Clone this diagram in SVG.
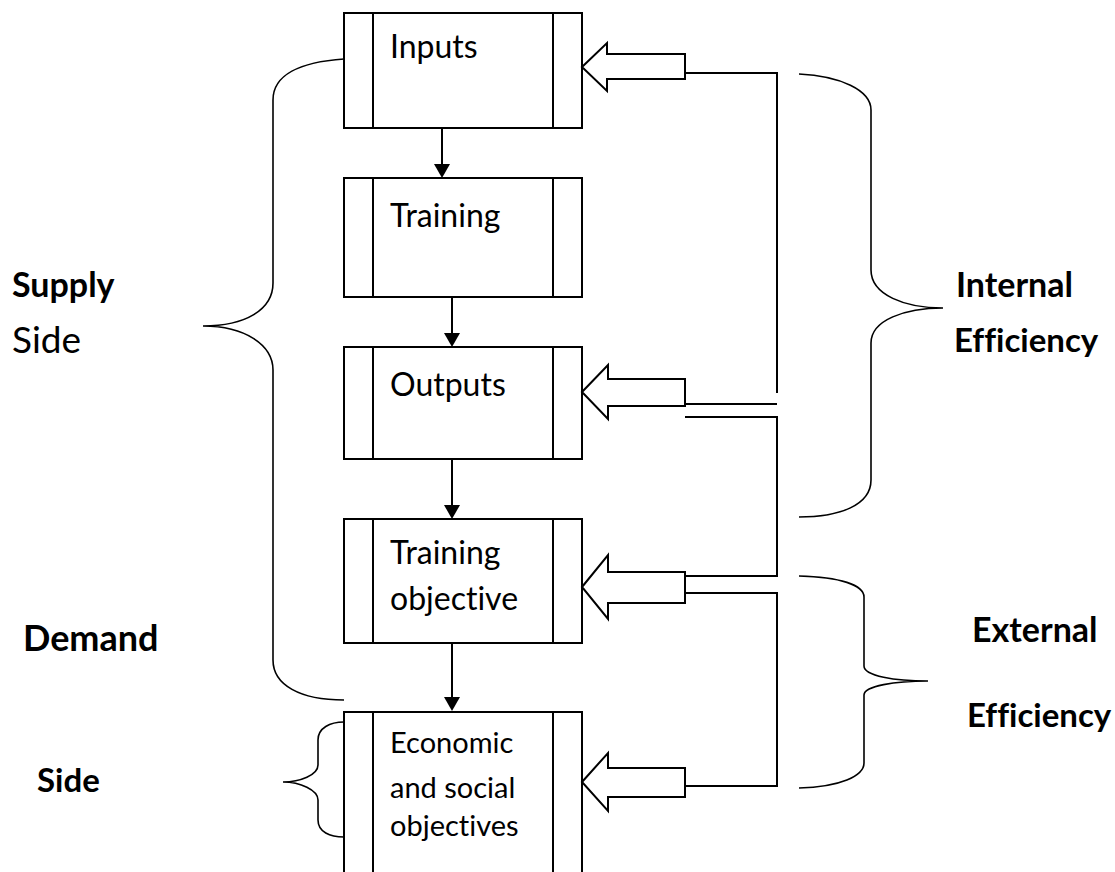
<svg xmlns="http://www.w3.org/2000/svg" width="1115" height="872" viewBox="0 0 1115 872">
<style>
text{font-variant-ligatures:none}
.box{fill:#fff;stroke:#000;stroke-width:2}
.ln{fill:none;stroke:#000;stroke-width:2}
.br{fill:none;stroke:#000;stroke-width:1.6}
.blk{fill:#fff;stroke:#000;stroke-width:2;stroke-linejoin:miter}
.t{font-family:Lato,"Open Sans",sans-serif;font-size:32px;fill:#000}
.ts{font-family:Lato,"Open Sans",sans-serif;font-size:29px;fill:#000}
.b{font-family:Lato,"Open Sans",sans-serif;font-size:34px;font-weight:bold;fill:#000}
.side{font-family:Lato,"Open Sans",sans-serif;font-size:37px;fill:#000}
</style>
<rect width="1115" height="872" fill="#fff"/>
<g id="node-inputs">
<rect class="box" x="344" y="13" width="238" height="115"/>
<line class="ln" x1="373" y1="13" x2="373" y2="128"/>
<line class="ln" x1="553" y1="13" x2="553" y2="128"/>
<text class="t" x="390" y="58">Inputs</text>
</g>
<g id="node-training">
<rect class="box" x="344" y="178" width="238" height="119"/>
<line class="ln" x1="373" y1="178" x2="373" y2="297"/>
<line class="ln" x1="553" y1="178" x2="553" y2="297"/>
<text class="t" x="390" y="227">Training</text>
</g>
<g id="node-outputs">
<rect class="box" x="344" y="347" width="238" height="112"/>
<line class="ln" x1="373" y1="347" x2="373" y2="459"/>
<line class="ln" x1="553" y1="347" x2="553" y2="459"/>
<text class="t" x="390" y="396">Outputs</text>
</g>
<g id="node-training-objective">
<rect class="box" x="344" y="519" width="238" height="124"/>
<line class="ln" x1="373" y1="519" x2="373" y2="643"/>
<line class="ln" x1="553" y1="519" x2="553" y2="643"/>
<text class="t" x="390" y="564">Training</text>
<text class="t" x="390" y="610">objective</text>
</g>
<g id="node-economic">
<rect class="box" x="344" y="712" width="238" height="180"/>
<line class="ln" x1="373" y1="712" x2="373" y2="880"/>
<line class="ln" x1="553" y1="712" x2="553" y2="880"/>
<text class="ts" x="390" y="753">Economic</text>
<text class="ts" x="390" y="798">and social</text>
<text class="ts" x="390" y="836">objectives</text>
</g>
<g id="connectors">
<line class="ln" x1="442" y1="128" x2="442" y2="165"/>
<polygon points="434,164 450,164 442,178" fill="#000"/>
<line class="ln" x1="452" y1="297" x2="452" y2="334"/>
<polygon points="444,333 460,333 452,347" fill="#000"/>
<line class="ln" x1="452" y1="459" x2="452" y2="506"/>
<polygon points="444,505 460,505 452,519" fill="#000"/>
<line class="ln" x1="452" y1="643" x2="452" y2="698"/>
<polygon points="444,697 460,697 452,711" fill="#000"/>
<polygon class="blk" points="582,67 607,43 607,54 685,54 685,79 607,79 607,91"/>
<polygon class="blk" points="582,392 608,365 608,379 685,379 685,406 608,406 608,419"/>
<polygon class="blk" points="582,587 608,555 608,572 685,572 685,603 608,603 608,619"/>
<polygon class="blk" points="582,782 608,753 608,768 685,768 685,797 608,797 608,811"/>
<path class="ln" d="M685,73 H777 V393"/>
<path class="ln" d="M685,404 H777"/>
<path class="ln" d="M685,417 H777 V576 H685"/>
<path class="ln" d="M685,593 H777 V786 H684"/>
</g>
<g id="brace-supply">
<path class="br" d="M344,59 C300,62 273,75 273,100 V283 C273,310 245,326 203,326 C245,326 273,345 273,370 V660 C273,685 300,700 344,700"/>
<text class="b" x="12" y="297">Supply</text>
<text class="side" x="12" y="353">Side</text>
</g>
<g id="brace-demand">
<path class="br" d="M344,722 C330,722 318,728 318,740 V765 C318,775 300,782 283,782 C300,782 318,790 318,800 V820 C318,832 330,837 344,837"/>
<text class="b" x="23" y="651" style="font-size:36px">Demand</text>
<text class="b" x="37" y="792" style="font-size:33px">Side</text>
</g>
<g id="brace-internal">
<path class="br" d="M799,74 C840,76 871,90 871,110 V270 C871,295 905,308 943,308 C905,308 871,320 871,343 V480 C871,505 840,517 799,517"/>
<text class="b" x="956" y="297">Internal</text>
<text class="b" x="954" y="352" style="font-size:33px">Efficiency</text>
</g>
<g id="brace-external">
<path class="br" d="M799,576 C840,577 864,585 864,597 V666 C864,676 895,681 928,681 C895,681 864,686 864,695 V763 C864,776 840,787 799,788"/>
<text class="b" x="972" y="642">External</text>
<text class="b" x="967" y="727" style="font-size:33px">Efficiency</text>
</g>
</svg>
